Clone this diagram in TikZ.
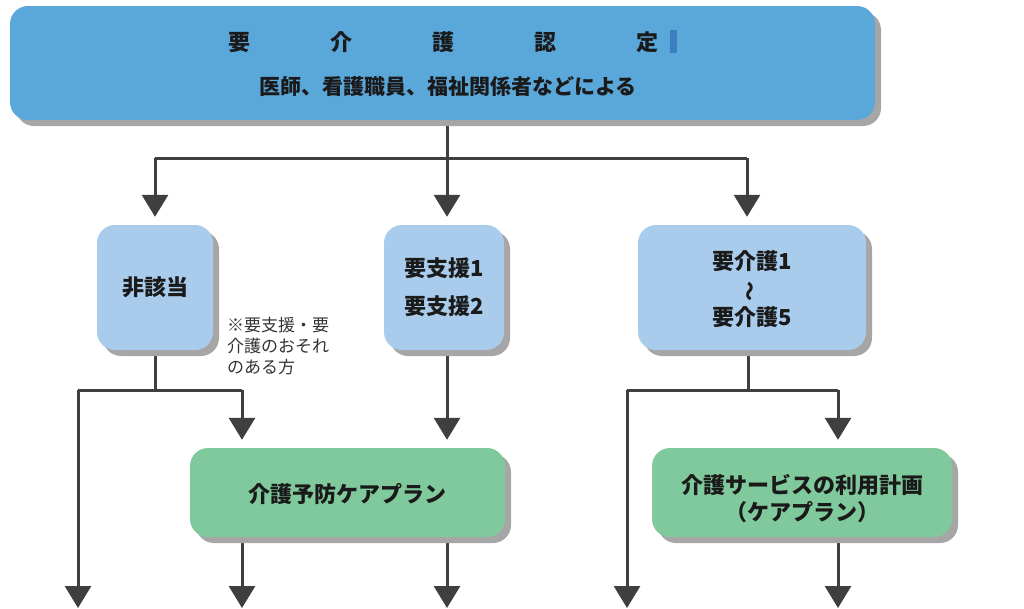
\documentclass[tikz,border=0pt]{standalone}
\usepackage{fontspec}
\usepackage{graphicx}
\setmainfont{Noto Sans CJK JP}
\usetikzlibrary{arrows.meta,shadows,backgrounds}
\definecolor{topblue}{HTML}{5AA7DA}
\definecolor{lightblue}{HTML}{A9CCEC}
\definecolor{planGreen}{HTML}{80C99C}
\definecolor{shadowgray}{HTML}{A6A6A6}
\definecolor{linegray}{HTML}{3F3F3F}
\definecolor{barblue}{HTML}{3B7FC2}
\definecolor{txt}{HTML}{1A1A1A}
\definecolor{notegray}{HTML}{333333}
\begin{document}
\begin{tikzpicture}[x=1pt,y=-1pt,
  box/.style={rounded corners=18pt, draw=none, align=center, inner sep=0pt, text=txt,
    font=\bfseries\fontsize{22}{38}\selectfont,
    drop shadow={shadow xshift=6pt, shadow yshift=-6pt, fill=shadowgray, opacity=1}},
  conn/.style={draw=linegray, line width=3pt},
  arr/.style={conn, -{Triangle[width=26pt,length=22pt]}}]
\useasboundingbox (0,0) rectangle (1024,608);
% top box
\node[box, fill=topblue, minimum width=865pt, minimum height=114pt] (top) at (442.5,63) {};
\node[font=\bfseries\fontsize{22}{22}\selectfont, text=txt, inner sep=0pt] (title) at (443.5,42)
  {要\hspace{80pt}介\hspace{80pt}護\hspace{80pt}認\hspace{80pt}定};
\fill[barblue] (670,30) rectangle (677,53);
\node[font=\bfseries\fontsize{21}{21}\selectfont, text=txt, inner sep=0pt] (sub) at (448,87)
  {医師、看護職員、福祉関係者などによる};
% level 2
\node[box, fill=lightblue, minimum width=116pt, minimum height=125pt] (nogai) at (155,287.5) {非該当};
\node[box, fill=lightblue, minimum width=120pt, minimum height=125pt] (shien) at (444,287.5) {要支援1\\要支援2};
\node[box, fill=lightblue, minimum width=228pt, minimum height=125pt,
  font=\bfseries\fontsize{22}{28}\selectfont] (kaigo) at (752,287.5)
  {\rule{0pt}{22pt}要介護1\\\smash{\rotatebox[origin=c]{90}{\fontsize{20}{20}\selectfont ～}}\\要介護5};
\node[font=\fontsize{17}{21}\selectfont, align=left, anchor=north west, inner sep=0pt, text=notegray]
  (note) at (227,317) {※要支援・要\\介護のおそれ\\のある方};
% level 3
\node[box, fill=planGreen, minimum width=315pt, minimum height=89pt] (plan1) at (347.5,492.5) {\rule{0pt}{22pt}介護予防ケアプラン};
\node[box, fill=planGreen, minimum width=300pt, minimum height=89pt,
  font=\bfseries\fontsize{22}{27}\selectfont] (plan2) at (802,492.5) {\rule{0pt}{32pt}介護サービスの利用計画\\（ケアプラン）};
% coordinates
\coordinate (h1) at (447,158);
\coordinate (hL) at (155,158);
\coordinate (hR) at (747,158);
\coordinate (s1) at (155,390);
\coordinate (s1L) at (78,390);
\coordinate (s1R) at (242,390);
\coordinate (s3) at (748,390);
\coordinate (s3L) at (627,390);
\coordinate (s3R) at (838,390);
\coordinate (b1) at (78,608);
\coordinate (b4) at (627,608);
\begin{scope}[on background layer]
\draw[conn] (top.south -| h1) -- (h1);
\draw[conn] (hL) -- (hR);
\draw[arr, shorten >=8pt] (hL) -- (hL |- nogai.north);
\draw[arr, shorten >=8pt] (h1) -- (h1 |- shien.north);
\draw[arr, shorten >=8pt] (hR) -- (hR |- kaigo.north);
\draw[conn] (nogai.south -| s1) -- (s1);
\draw[conn] (s1L) -- (s1R);
\draw[arr] (s1L) -- (b1);
\draw[arr, shorten >=8pt] (s1R) -- (s1R |- plan1.north);
\draw[arr, shorten >=8pt] (shien.south -| h1) -- (h1 |- plan1.north);
\draw[conn] (kaigo.south -| s3) -- (s3);
\draw[conn] (s3L) -- (s3R);
\draw[arr] (s3L) -- (b4);
\draw[arr, shorten >=8pt] (s3R) -- (s3R |- plan2.north);
\draw[arr] (plan1.south -| s1R) -- (s1R |- b1);
\draw[arr] (plan1.south -| h1) -- (h1 |- b1);
\draw[arr] (plan2.south -| s3R) -- (s3R |- b1);
\end{scope}
\end{tikzpicture}
\end{document}
